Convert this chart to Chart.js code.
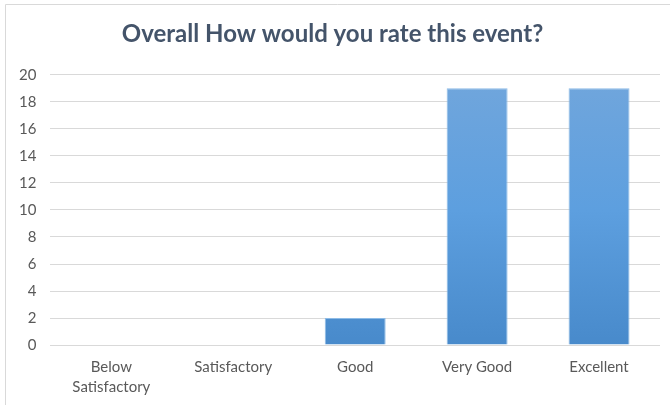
<!DOCTYPE html>
<html><head><meta charset="utf-8">
<script src="https://cdn.jsdelivr.net/npm/chart.js@4.4.1/dist/chart.umd.min.js"></script>
<style>html,body{margin:0;padding:0;background:#fff;}#wrap{width:670px;height:405px;position:relative;}</style>
</head><body><div id="wrap"><canvas id="c" width="670" height="405"></canvas></div>
<script>
const categories = [['Below', 'Satisfactory'], 'Satisfactory', 'Good', 'Very Good', 'Excellent'];
const counts = [0, 0, 2, 19, 19];
const yTicks = [0, 2, 4, 6, 8, 10, 12, 14, 16, 18, 20];
const titleText = 'Overall How would you rate this event?';

const framePlugin = {
  id: 'frame',
  beforeDraw(chart) {
    const ctx = chart.ctx;
    ctx.save();
    ctx.strokeStyle = '#d9d9d9';
    ctx.lineWidth = 1;
    ctx.beginPath();
    ctx.moveTo(5.5, 405);
    ctx.lineTo(5.5, 4.5);
    ctx.lineTo(670, 4.5);
    ctx.stroke();
    ctx.restore();
  }
};

function grad(context) {
  const chart = context.chart;
  const area = chart.chartArea;
  if (!area) return '#5b9bd5';
  const g = chart.ctx.createLinearGradient(0, area.top, 0, area.bottom);
  g.addColorStop(0, '#71a6dc');
  g.addColorStop(0.5, '#5d9fdf');
  g.addColorStop(1, '#488acb');
  return g;
}

new Chart(document.getElementById('c'), {
  type: 'bar',
  data: {
    labels: categories,
    datasets: [{
      data: counts,
      backgroundColor: grad,
      borderColor: '#8dbbe6',
      borderWidth: {left: 1, right: 1, top: 1, bottom: 0},
      categoryPercentage: 1,
      barPercentage: 0.5
    }]
  },
  options: {
    responsive: false,
    animation: false,
    devicePixelRatio: 1,
    layout: {padding: {left: 5, right: 10, top: 15, bottom: -4}},
    plugins: {
      legend: {display: false},
      tooltip: {enabled: false},
      title: {
        display: true,
        text: titleText,
        color: '#44546a',
        font: {family: 'Lato', size: 24, weight: 'bold'},
        padding: {top: 5, bottom: 26}
      }
    },
    scales: {
      x: {
        grid: {display: false, drawTicks: false},
        border: {display: false},
        ticks: {color: '#595959', font: {family: 'Lato', size: 15, lineHeight: 1.33}, padding: 12, maxRotation: 0, autoSkip: false}
      },
      y: {
        min: 0, max: 20,
        afterBuildTicks(axis) { axis.ticks = yTicks.map(v => ({value: v})); },
        grid: {color: '#d9d9d9', lineWidth: 1, drawTicks: false},
        border: {display: false},
        ticks: {color: '#595959', font: {family: 'Lato', size: 15}, padding: 14}
      }
    }
  },
  plugins: [framePlugin]
});
</script></body></html>
